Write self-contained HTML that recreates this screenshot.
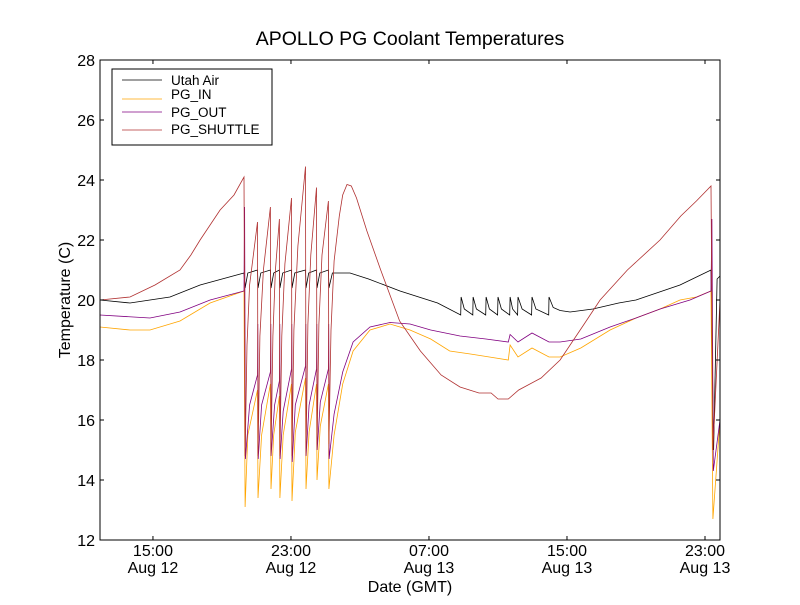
<!DOCTYPE html>
<html><head><meta charset="utf-8"><style>
body{margin:0;background:#fff;}
svg text{font-family:"Liberation Sans","DejaVu Sans",sans-serif;}
</style></head><body>
<svg id="chart" width="800" height="600" xmlns="http://www.w3.org/2000/svg">
<rect width="800" height="600" fill="#fff"/>
<text x="410" y="45" font-size="19.5" text-anchor="middle">APOLLO PG Coolant Temperatures</text>
<g id="series"></g>
<rect x="100" y="60" width="620" height="480" fill="none" stroke="#000" stroke-width="1"/>
<g id="axes"></g>
<text x="410" y="592" font-size="16" text-anchor="middle">Date (GMT)</text>
<text x="70" y="300" font-size="16" text-anchor="middle" transform="rotate(-90 70 300)">Temperature (C)</text>
<g>
<rect x="112" y="69" width="160" height="76" fill="#fff" stroke="#000" stroke-width="1"/>
<line x1="122" y1="80" x2="162" y2="80" stroke="#000" stroke-width="0.8"/><text x="171" y="85" font-size="13.5">Utah Air</text>
<line x1="122" y1="99" x2="162" y2="99" stroke="#ffa500" stroke-width="0.8"/><text x="171" y="99" font-size="13.5">PG_IN</text>
<line x1="122" y1="112" x2="162" y2="112" stroke="#800080" stroke-width="0.8"/><text x="171" y="117" font-size="13.5">PG_OUT</text>
<line x1="122" y1="130" x2="162" y2="130" stroke="#b03030" stroke-width="0.8"/><text x="171" y="134" font-size="13.5">PG_SHUTTLE</text>
</g>
</svg>
<script>
// times in hours since Aug 12 00:00 GMT
const xTickHours = [15, 23, 31, 39, 47];
const xTickLabels = ["15:00", "23:00", "07:00", "15:00", "23:00"];
const xTickDates = ["Aug 12", "Aug 12", "Aug 13", "Aug 13", "Aug 13"];
const yTicks = [12, 14, 16, 18, 20, 22, 24, 26, 28];
const utahAir = [[11.93,20],[13.67,19.9],[15.99,20.1],[17.73,20.5],[20.28,20.9],[20.34,20.4],[20.5,20.9],[21.06,21.0],[21.09,20.4],[21.25,20.9],[21.81,21.0],[21.84,20.4],[22.0,20.9],[22.33,21.0],[22.36,20.4],[22.52,20.9],[23.03,21.0],[23.06,20.4],[23.22,20.9],[23.84,21.0],[23.87,20.4],[24.03,20.9],[24.48,21.0],[24.51,20.4],[24.67,20.9],[25.17,21.0],[25.2,20.4],[25.4,20.9],[26.42,20.9],[27.5,20.7],[29.32,20.3],[31.5,19.9],[32.84,19.5],[32.86,20.1],[33.05,19.7],[33.54,19.5],[33.56,20.1],[33.75,19.7],[34.29,19.5],[34.31,20.1],[34.5,19.7],[34.98,19.5],[35.0,20.1],[35.2,19.7],[35.68,19.5],[35.7,20.1],[35.85,19.7],[36.14,19.5],[36.16,20.1],[36.4,19.7],[36.95,19.5],[36.97,20.1],[37.2,19.7],[37.94,19.5],[37.96,20.1],[38.2,19.75],[38.6,19.65],[39.18,19.6],[40.5,19.7],[42.0,19.9],[43.0,20.0],[45.55,20.5],[47.35,21.0],[47.5,15.0],[47.7,20.7],[47.87,20.8]];
const pgIn = [[11.93,19.1],[13.67,19.0],[14.83,19.0],[16.57,19.3],[18.31,19.9],[20.28,20.3],[20.34,13.1],[20.5,15.5],[21.06,17.0],[21.09,13.4],[21.3,15.5],[21.81,17.2],[21.84,13.7],[22.0,15.5],[22.33,16.8],[22.36,13.4],[22.55,15.5],[23.03,17.2],[23.06,13.3],[23.25,15.6],[23.84,17.4],[23.87,13.7],[24.05,15.6],[24.48,17.2],[24.51,14.0],[24.7,15.8],[25.17,17.2],[25.2,13.7],[25.5,15.5],[26.0,17.2],[26.6,18.3],[27.58,19.0],[28.74,19.2],[29.9,19.0],[31.1,18.7],[32.2,18.3],[33.4,18.2],[34.5,18.1],[35.6,18.0],[35.7,18.5],[36.16,18.1],[36.97,18.4],[37.96,18.1],[38.6,18.1],[39.8,18.4],[41.5,19.0],[43.0,19.4],[44.4,19.7],[45.55,20.0],[46.5,20.1],[47.35,20.3],[47.46,12.7],[47.87,16.0]];
const pgOut = [[11.93,19.5],[14.83,19.4],[16.57,19.6],[18.31,20.0],[20.28,20.3],[20.31,23.1],[20.36,14.7],[20.6,16.5],[21.06,17.5],[21.08,19.2],[21.1,14.7],[21.3,16.5],[21.81,17.6],[21.83,19.2],[21.85,14.8],[22.05,16.5],[22.33,17.3],[22.35,19.2],[22.37,14.7],[22.55,16.3],[23.03,17.7],[23.05,19.2],[23.07,14.6],[23.25,16.5],[23.84,17.8],[23.86,19.2],[23.88,14.8],[24.05,16.5],[24.48,17.7],[24.5,19.2],[24.52,15.0],[24.7,16.6],[25.17,17.7],[25.19,19.2],[25.21,14.7],[25.5,16.2],[26.0,17.6],[26.6,18.6],[27.58,19.1],[28.74,19.25],[29.9,19.2],[31.1,19.0],[32.8,18.8],[34.3,18.7],[35.6,18.6],[35.7,18.85],[36.16,18.6],[36.97,18.9],[37.96,18.6],[38.6,18.6],[39.8,18.7],[41.5,19.1],[43.0,19.4],[44.4,19.7],[46.13,20.0],[47.35,20.3],[47.4,22.7],[47.48,14.3],[47.87,16.0]];
const pgShuttle = [[11.93,20],[13.67,20.1],[15.12,20.5],[16.57,21],[17.2,21.5],[17.73,22],[18.89,23],[19.7,23.5],[20.28,24.1],[20.34,14.8],[20.45,18.5],[20.6,20.5],[21.06,22.6],[21.09,14.8],[21.2,18.8],[21.4,21],[21.81,23.1],[21.84,14.8],[21.95,18.8],[22.1,21],[22.33,22.7],[22.36,14.8],[22.47,18.8],[22.65,21.2],[23.03,23.4],[23.06,14.8],[23.17,19],[23.4,21.8],[23.84,24.45],[23.87,14.8],[23.98,19.2],[24.15,21.5],[24.48,23.75],[24.51,15],[24.62,19.2],[24.8,21.5],[25.17,23.3],[25.2,15.2],[25.32,19],[25.5,21.3],[25.8,22.8],[26.0,23.5],[26.25,23.85],[26.5,23.8],[26.8,23.4],[27.4,22.3],[28.2,21],[29.3,19.3],[30.5,18.3],[31.7,17.5],[32.8,17.1],[33.9,16.9],[34.6,16.9],[35.0,16.7],[35.6,16.7],[36.2,17],[37.5,17.4],[38.6,18],[40.0,19.2],[40.92,20],[42.5,21],[44.39,22],[45.6,22.8],[46.5,23.3],[47.35,23.8],[47.46,15],[47.87,20]];

const H0 = 11.93, H1 = 47.87, L = 100, R = 720, T = 60, B = 540, V0 = 12, V1 = 28;
const xS = h => L + (h - H0) / (H1 - H0) * (R - L);
const yS = v => B - (v - V0) / (V1 - V0) * (B - T);
const NS = "http://www.w3.org/2000/svg";
const sg = document.getElementById("series");
const ax = document.getElementById("axes");

function drawLine(data, color, name) {
  const p = document.createElementNS(NS, "polyline");
  p.setAttribute("points", data.map(d => xS(d[0]).toFixed(1) + "," + yS(d[1]).toFixed(1)).join(" "));
  p.setAttribute("fill", "none");
  p.setAttribute("stroke", color);
  p.setAttribute("stroke-width", "0.8");
  
  
  sg.appendChild(p);
}
drawLine(utahAir, "#000", "utah-air-line");
drawLine(pgIn, "#ffa500", "pg-in-line");
drawLine(pgOut, "#800080", "pg-out-line");
drawLine(pgShuttle, "#b03030", "pg-shuttle-line");

function mk(tag, attrs) {
  const e = document.createElementNS(NS, tag);
  for (const k in attrs) e.setAttribute(k, attrs[k]);
  ax.appendChild(e);
  return e;
}
yTicks.forEach(v => {
  const y = yS(v);
  const t1 = mk("line", {x1: L, x2: L + 4, y1: y, y2: y, stroke: "#000"});
  
  
  const t2 = mk("line", {x1: R - 4, x2: R, y1: y, y2: y, stroke: "#000"});
  
  
  const tx = mk("text", {x: L - 5, y: y + 6, "font-size": 16, "text-anchor": "end"});
  tx.textContent = v;
  
  
});
xTickHours.forEach((h, i) => {
  const x = xS(h);
  const t1 = mk("line", {x1: x, x2: x, y1: B, y2: B - 4, stroke: "#000"});
  
  
  const t2 = mk("line", {x1: x, x2: x, y1: T, y2: T + 4, stroke: "#000"});
  
  
  const a = mk("text", {x: x, y: 556, "font-size": 16, "text-anchor": "middle"});
  a.textContent = xTickLabels[i];
  
  
  const b = mk("text", {x: x, y: 573, "font-size": 16, "text-anchor": "middle"});
  b.textContent = xTickDates[i];
  
  
});
</script>
</body></html>
